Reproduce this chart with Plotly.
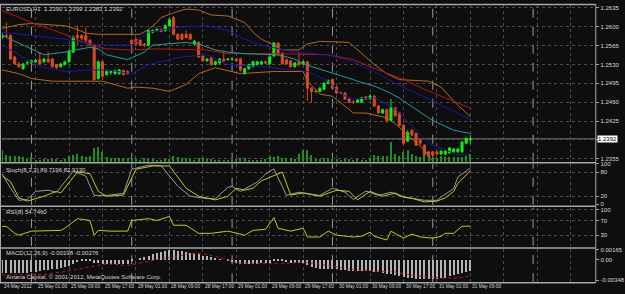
import plotly.graph_objects as go

W, H = 625, 294

# ---------------- data ----------------
bars = list(range(113))
open_ = [1.2580,1.2584,1.2584,1.2544,1.2531,1.2522,1.2533,1.2533,1.2535,1.2539,
 1.2535,1.2540,1.2540,1.2530,1.2526,1.2530,1.2535,1.2553,1.2584,1.2584,
 1.2584,1.2575,1.2566,1.2504,1.2535,1.2511,1.2515,1.2513,1.2513,1.2519,
 1.2517,1.2575,1.2577,1.2575,1.2568,1.2566,1.2590,1.2593,1.2595,1.2593,
 1.2602,1.2617,1.2586,1.2586,1.2586,1.2586,1.2568,1.2571,1.2546,1.2537,
 1.2542,1.2530,1.2533,1.2540,1.2539,1.2540,1.2540,1.2540,1.2513,1.2522,
 1.2526,1.2530,1.2531,1.2535,1.2531,1.2546,1.2570,1.2551,1.2539,1.2537,
 1.2526,1.2535,1.2531,1.2535,1.2486,1.2480,1.2480,1.2484,1.2495,1.2502,
 1.2488,1.2477,1.2477,1.2466,1.2460,1.2460,1.2460,1.2470,1.2466,1.2471,
 1.2453,1.2440,1.2446,1.2426,1.2450,1.2440,1.2417,1.2388,1.2408,1.2402,
 1.2390,1.2380,1.2368,1.2368,1.2368,1.2364,1.2364,1.2366,1.2368,1.2368,
 1.2368,1.2384,1.2390]
high = [1.2588,1.2608,1.2586,1.2546,1.2535,1.2533,1.2537,1.2539,1.2540,1.2553,
 1.2542,1.2553,1.2542,1.2531,1.2533,1.2537,1.2557,1.2584,1.2602,1.2586,
 1.2599,1.2577,1.2568,1.2537,1.2537,1.2519,1.2519,1.2520,1.2522,1.2520,
 1.2519,1.2577,1.2579,1.2577,1.2570,1.2595,1.2595,1.2599,1.2597,1.2604,
 1.2617,1.2620,1.2588,1.2588,1.2593,1.2588,1.2575,1.2573,1.2548,1.2542,
 1.2544,1.2537,1.2542,1.2553,1.2542,1.2544,1.2542,1.2542,1.2524,1.2531,
 1.2537,1.2537,1.2537,1.2537,1.2546,1.2571,1.2571,1.2553,1.2540,1.2539,
 1.2535,1.2553,1.2537,1.2537,1.2488,1.2484,1.2488,1.2497,1.2502,1.2504,
 1.2490,1.2480,1.2479,1.2468,1.2464,1.2466,1.2470,1.2471,1.2475,1.2473,
 1.2455,1.2448,1.2448,1.2466,1.2451,1.2442,1.2419,1.2408,1.2410,1.2404,
 1.2391,1.2382,1.2369,1.2369,1.2369,1.2371,1.2371,1.2377,1.2375,1.2375,
 1.2388,1.2395,1.2399]
low = [1.2577,1.2579,1.2539,1.2530,1.2524,1.2520,1.2530,1.2531,1.2533,1.2530,
 1.2533,1.2533,1.2524,1.2522,1.2524,1.2528,1.2533,1.2551,1.2566,1.2575,
 1.2568,1.2564,1.2499,1.2502,1.2504,1.2510,1.2511,1.2511,1.2511,1.2510,
 1.2511,1.2566,1.2566,1.2564,1.2562,1.2564,1.2588,1.2591,1.2590,1.2591,
 1.2600,1.2584,1.2575,1.2575,1.2579,1.2575,1.2566,1.2542,1.2535,1.2535,
 1.2528,1.2528,1.2531,1.2535,1.2537,1.2537,1.2535,1.2517,1.2511,1.2520,
 1.2524,1.2528,1.2530,1.2531,1.2530,1.2544,1.2546,1.2530,1.2530,1.2524,
 1.2524,1.2526,1.2530,1.2462,1.2459,1.2477,1.2479,1.2482,1.2493,1.2484,
 1.2475,1.2475,1.2464,1.2459,1.2457,1.2459,1.2459,1.2464,1.2464,1.2451,
 1.2439,1.2439,1.2422,1.2424,1.2433,1.2415,1.2380,1.2386,1.2397,1.2379,
 1.2380,1.2360,1.2357,1.2360,1.2362,1.2362,1.2362,1.2364,1.2366,1.2366,
 1.2366,1.2382,1.2383]
close = [1.2584,1.2583,1.2540,1.2531,1.2526,1.2531,1.2533,1.2537,1.2537,1.2531,
 1.2540,1.2535,1.2526,1.2524,1.2531,1.2535,1.2555,1.2580,1.2580,1.2579,
 1.2575,1.2566,1.2502,1.2535,1.2508,1.2517,1.2517,1.2519,1.2520,1.2511,
 1.2513,1.2568,1.2568,1.2566,1.2566,1.2593,1.2593,1.2595,1.2591,1.2602,
 1.2613,1.2586,1.2577,1.2577,1.2580,1.2577,1.2573,1.2544,1.2537,1.2540,
 1.2530,1.2535,1.2540,1.2537,1.2540,1.2540,1.2537,1.2520,1.2522,1.2530,
 1.2535,1.2535,1.2535,1.2533,1.2544,1.2570,1.2550,1.2531,1.2531,1.2526,
 1.2533,1.2530,1.2535,1.2486,1.2480,1.2480,1.2486,1.2495,1.2500,1.2486,
 1.2477,1.2477,1.2466,1.2460,1.2460,1.2464,1.2468,1.2466,1.2471,1.2453,
 1.2440,1.2446,1.2426,1.2450,1.2435,1.2417,1.2384,1.2404,1.2399,1.2380,
 1.2384,1.2362,1.2359,1.2362,1.2364,1.2369,1.2369,1.2375,1.2373,1.2373,
 1.2386,1.2393,1.2392]
volume = [1200,700,600,600,600,500,300,500,200,200,300,300,300,300,200,300,600,700,800,600,
 500,600,1400,1500,1000,500,400,400,400,400,400,300,300,200,400,300,300,200,200,300,
 300,600,500,400,400,300,200,400,400,300,
 300,200,200,200,200,200,300,400,400,200,200,200,200,300,600,500,600,400,400,400,
 300,800,1200,1200,700,300,300,400,300,300,300,200,300,300,200,300,200,200,400,700,
 600,600,600,2000,800,600,1000,
 1200,800,600,500,800,500,400,400,600,500,500,500,500,500,600,800]

# Bollinger bands (orange), read at selected bars
bb_up_x = [0,4,7,15,18,20,23,33,35,37,38,41,44,47,50,54,58,60,62,65,67,71,73,76,83,85,89,92,95,102,105,108,112]
bb_up = [1.2597,1.2604,1.2606,1.2602,1.2595,1.2588,1.2586,1.2586,1.2595,1.2608,1.2617,1.2626,1.2633,1.2631,
         1.2622,1.2620,1.2608,1.2590,1.2577,1.2566,1.2557,1.2557,1.2568,1.2573,1.2571,1.2557,1.2530,1.2513,
         1.2502,1.2499,1.2488,1.2462,1.2433]
bb_lo_x = [0,4,7,12,24,28,30,32,36,40,44,47,51,57,65,72,73,76,79,81,84,87,92,94,97,101,103,112]
bb_lo = [1.2520,1.2513,1.2504,1.2499,1.2499,1.2490,1.2486,1.2488,1.2486,1.2480,1.2493,1.2513,1.2524,1.2513,
         1.2517,1.2517,1.2499,1.2475,1.2471,1.2459,1.2440,1.2440,1.2431,1.2420,1.2399,1.2371,1.2350,1.2308]
# slow moving average (red)
ma_red_x = [0,7,15,21,25,31,36,49,54,66,78,84,88,96,101,112]
ma_red = [1.2630,1.2608,1.2586,1.2566,1.2559,1.2557,1.2559,1.2557,1.2550,1.2550,1.2548,1.2539,1.2526,1.2502,1.2484,1.2449]
# middle moving average (teal)
ma_teal_x = [0,10,15,21,23,25,30,34,36,40,44,47,51,54,58,66,70,72,78,84,85,89,92,95,97,103,108,112]
ma_teal = [1.2584,1.2548,1.2553,1.2562,1.2559,1.2548,1.2539,1.2553,1.2566,1.2568,1.2571,1.2568,1.2557,1.2553,
           1.2550,1.2548,1.2540,1.2531,1.2517,1.2502,1.2499,1.2490,1.2480,1.2468,1.2457,1.2426,1.2408,1.2402]
# blue band lines
blue_up_x = [0,7,15,21,25,31,35,42,49,54,58,62,70,78,84,90,94,102,112]
blue_up = [1.2590,1.2584,1.2577,1.2568,1.2566,1.2566,1.2590,1.2599,1.2602,1.2593,1.2577,1.2566,1.2553,1.2548,
           1.2535,1.2513,1.2495,1.2466,1.2428]
blue_lo_x = [0,4,9,15,21,25,31,35,43,49,54,62,73,78,81,84,89,94,102,109,112]
blue_lo = [1.2566,1.2548,1.2526,1.2517,1.2520,1.2520,1.2513,1.2530,1.2544,1.2548,1.2530,1.2526,1.2517,1.2499,
           1.2475,1.2466,1.2468,1.2448,1.2384,1.2362,1.2362]

# Stochastic (8,3,3)
st_main_x = [0,2,4,6,8,11,13,17,20,22,25,29,31,35,38,42,45,49,51,54,55,57,61,63,65,68,71,76,79,82,84,87,90,93,96,101,104,105,108,109,112]
st_main = [75,40,10,12,32,35,30,82,70,22,22,27,87,97,96,45,20,14,14,42,44,32,55,75,88,22,30,22,40,30,12,33,22,30,18,10,10,18,39,68,89.7196]
st_sig_x = [0,2,4,6,10,13,14,18,21,23,25,29,32,36,40,44,47,49,51,54,56,58,60,62,65,67,69,72,76,80,83,85,88,91,94,96,98,101,104,106,108,109,112]
st_sig = [71,56,16,8,20,32,28,80,76,32,20,23,87,95,95,40,20,16,11,20,40,35,40,58,71,80,23,28,20,35,32,11,32,20,28,18,15,6,8,16,32,52,82.9130]

# RSI (8)
rsi_x = [0,1,3,4,7,11,14,15,18,21,22,23,26,30,31,35,37,40,41,44,47,50,54,58,60,63,65,66,69,72,73,76,78,80,84,86,88,89,92,93,96,98,100,103,105,106,108,110,112]
rsi = [54,54,35,30,41,41,43,49,75,70,30,43,41,41,70,75,70,81,57,57,35,35,41,30,43,46,78,49,41,49,25,25,41,30,25,27,38,27,17,41,22,33,25,22,27,35,35,54,54.746]

# MACD (12,26,9): histogram per bar and signal line (units of 0.0001)
macd_pts = [-22,-23,-23,-23,-23,-22,-22,-21,-20,-19,-18,-17,-16,-15,-14,-13,-11,-7,-4,-2,
        -1,-1,-5,-6,-7,-7,-7,-7,-7,-7,-7,-3,0,2,4,7,9,11,13,15,
        17,16,15,14,13,12,11,9,7,6,5,3,1,0,-2,-4,-6,-7,-8,-8,
        -8,-7,-6,-6,-5,-3,-2,-3,-4,-5,-5,-5,-5,-9,-12,-14,-15,-15,-15,-15,
        -16,-17,-18,-19,-19,-19,-19,-19,-19,-20,-21,-22,-24,-24,-25,-27,-29,-30,-31,-32,
        -33,-33,-33,-33,-32,-31,-30,-28,-26,-24,-22,-21,-19.8]
macd_sig_x = [0,10,16,25,30,37,44,47,51,57,67,72,78,83,94,98,105,109,112]
macd_sig_pts = [-26,-25,-19,-7,-10,0,8,11,5,-6,-7,-4,-10,-16,-21,-26,-31,-31,-27.6]
macd = [v / 10000 for v in macd_pts]
macd_sig = [v / 10000 for v in macd_sig_pts]

time_labels = ["24 May 2012", "25 May 01:00", "25 May 09:00", "25 May 17:00", "28 May 01:00",
               "28 May 09:00", "28 May 17:00", "29 May 01:00", "29 May 09:00", "29 May 17:00",
               "30 May 01:00", "30 May 09:00", "30 May 17:00", "31 May 01:00", "31 May 09:00"]
time_label_bars = [0, 8, 16, 24, 32, 40, 48, 56, 64, 72, 80, 88, 96, 104, 112]
day_sep_bars = [7, 31, 55, 79, 103, 127]
price_ticks = [1.2355, 1.2390, 1.2425, 1.2460, 1.2495, 1.2530, 1.2565, 1.2600, 1.2635]

# ---------------- layout helpers ----------------
def py(p):
    return 1 - p / H

BG = "#0e0e0e"
TXT = "#d8d8d8"
GRID = "#4c4c4c"
FONT = "Liberation Sans"
FS = 6

dom_x = [2 / W, 605 / W]
xr = [-0.05, 603 / 4.25]
panels = {
    "y": [py(162), py(2)],
    "y2": [py(206), py(164)],
    "y3": [py(248), py(209)],
    "y4": [py(285), py(251)],
}

fig = go.Figure()

# volume (overlay axis on price panel)
fig.add_trace(go.Bar(x=bars, y=volume, width=0.3, marker=dict(color="#1f8f1f", line=dict(width=0)),
                     xaxis="x", yaxis="y5", hoverinfo="skip"))

line = lambda c, w=1, d="solid": dict(color=c, width=w, dash=d)
fig.add_trace(go.Scatter(x=bb_up_x, y=bb_up, mode="lines", line=line("#b8661e"), xaxis="x", yaxis="y"))
fig.add_trace(go.Scatter(x=bb_lo_x, y=bb_lo, mode="lines", line=line("#b8661e"), xaxis="x", yaxis="y"))
fig.add_trace(go.Scatter(x=ma_red_x, y=ma_red, mode="lines", line=line("#b81414"), xaxis="x", yaxis="y"))
fig.add_trace(go.Scatter(x=blue_up_x, y=blue_up, mode="lines", line=line("#1818b0"), xaxis="x", yaxis="y"))
fig.add_trace(go.Scatter(x=blue_lo_x, y=blue_lo, mode="lines", line=line("#1818b0"), xaxis="x", yaxis="y"))
fig.add_trace(go.Scatter(x=ma_teal_x, y=ma_teal, mode="lines", line=line("#1f9e9e"), xaxis="x", yaxis="y"))

fig.add_trace(go.Candlestick(
    x=bars, open=open_, high=high, low=low, close=close, xaxis="x", yaxis="y",
    increasing=dict(line=dict(color="#10f010", width=1), fillcolor="#10f010"),
    decreasing=dict(line=dict(color="#dc4a1e", width=1), fillcolor="#dc4a1e"),
    whiskerwidth=0, hoverinfo="skip"))

# stochastic
fig.add_trace(go.Scatter(x=st_main_x, y=st_main, mode="lines", line=line("#9a9a9a"), xaxis="x2", yaxis="y2"))
fig.add_trace(go.Scatter(x=st_sig_x, y=st_sig, mode="lines", line=line("#c8c81e"), xaxis="x2", yaxis="y2"))
# rsi
fig.add_trace(go.Scatter(x=rsi_x, y=rsi, mode="lines", line=line("#c8c81e"), xaxis="x3", yaxis="y3"))
# macd
fig.add_trace(go.Bar(x=bars, y=macd, width=0.25, marker=dict(color="#b4b4b4", line=dict(width=0)),
                     xaxis="x4", yaxis="y4", hoverinfo="skip"))
fig.add_trace(go.Scatter(x=macd_sig_x, y=macd_sig, mode="lines", line=line("#d01010", 1, "dot"),
                         xaxis="x4", yaxis="y4"))

xcommon = dict(domain=dom_x, range=xr, showticklabels=False, showgrid=True, gridcolor=GRID,
               griddash="dot", gridwidth=1, tickvals=list(range(0, 142, 8)), zeroline=False,
               ticks="", showline=False, fixedrange=True)
ycommon = dict(side="right", showgrid=True, gridcolor=GRID, griddash="dot", zeroline=False,
               ticks="outside", ticklen=3, tickcolor="#a0a0a0", tickfont=dict(family=FONT, size=FS, color=TXT),
               showline=False, fixedrange=True)

fig.update_layout(
    width=W, height=H, margin=dict(l=0, r=0, t=0, b=0),
    paper_bgcolor=BG, plot_bgcolor=BG, showlegend=False, bargap=0,
    xaxis=dict(xcommon, anchor="y", rangeslider=dict(visible=False)),
    xaxis2=dict(xcommon, anchor="y2", matches="x"),
    xaxis3=dict(xcommon, anchor="y3", matches="x"),
    xaxis4=dict(xcommon, anchor="y4", matches="x"),
    yaxis=dict(ycommon, domain=panels["y"], anchor="x", range=[1.23496, 1.26405],
               tickvals=price_ticks, ticktext=["" if abs(v - close[-1]) < 0.0004 else f"{v:.4f}" for v in price_ticks]),
    yaxis5=dict(overlaying="y", range=[0, 16000], visible=False, fixedrange=True),
    yaxis2=dict(ycommon, domain=panels["y2"], anchor="x2", range=[-1.2, 100.8],
                tickvals=[0, 20, 80, 100], ticktext=["0", "20", "80", "100"]),
    yaxis3=dict(ycommon, domain=panels["y3"], anchor="x3", range=[0.7, 104.7],
                tickvals=[0, 30, 70, 100], ticktext=["0", "30", "70", "100"]),
    yaxis4=dict(ycommon, domain=panels["y4"], anchor="x4", range=[-0.0038, 0.0018], showgrid=False,
                tickvals=[-0.00348, 0, 0.00165], ticktext=["-0.00348", "0.00", "0.00165"]),
)

shapes = []
# day separators
for yk in ["y", "y2", "y3", "y4"]:
    xk = {"y": "x", "y2": "x2", "y3": "x3", "y4": "x4"}[yk]
    for b in day_sep_bars:
        shapes.append(dict(type="line", xref=xk, yref=f"{yk} domain", x0=b, x1=b, y0=0, y1=1,
                           line=dict(color="#9a9a9a", width=1, dash="dash"), layer="below"))
# bid line
shapes.append(dict(type="line", xref="x domain", yref="y", x0=0, x1=1, y0=close[-1], y1=close[-1],
                   line=dict(color="#7a7a7a", width=1), layer="below"))
# panel borders
for ypx in [1.5, 163, 207.5, 250, 285.5]:
    shapes.append(dict(type="line", xref="paper", yref="paper", x0=0, x1=605 / W, y0=py(ypx), y1=py(ypx),
                       line=dict(color="#a8a8a8", width=1.5)))
shapes.append(dict(type="line", xref="paper", yref="paper", x0=605.5 / W, x1=605.5 / W, y0=py(286), y1=py(1),
                   line=dict(color="#a8a8a8", width=1)))
shapes.append(dict(type="line", xref="paper", yref="paper", x0=0.5 / W, x1=0.5 / W, y0=py(286), y1=py(1),
                   line=dict(color="#a8a8a8", width=1)))
fig.update_layout(shapes=shapes)

tf = dict(family=FONT, size=FS, color=TXT)
tf_small = dict(family=FONT, size=4.8, color=TXT)
ann = []
ann.append(dict(xref="paper", yref="paper", x=4 / W, y=py(6.5), xanchor="left", yanchor="middle", showarrow=False,
                text=f"EURUSD,H1  {open_[-1]:.4f} {high[-1]:.4f} {low[-1]:.4f} {close[-1]:.4f}", font=tf))
ann.append(dict(xref="paper", yref="paper", x=4 / W, y=py(170), xanchor="left", yanchor="middle", showarrow=False,
                text=f"Stoch(8,3,3) {st_main[-1]:.4f} {st_sig[-1]:.4f}", font=tf))
ann.append(dict(xref="paper", yref="paper", x=4 / W, y=py(213.5), xanchor="left", yanchor="middle", showarrow=False,
                text=f"RSI(8) {rsi[-1]:.4f}", font=tf))
ann.append(dict(xref="paper", yref="paper", x=4 / W, y=py(255.5), xanchor="left", yanchor="middle", showarrow=False,
                text=f"MACD(12,26,9) {macd[-1]:.5f} {macd_sig[-1]:.5f}", font=tf))
ann.append(dict(xref="paper", yref="paper", x=4 / W, y=py(280), xanchor="left", yanchor="middle", showarrow=False,
                text="Amana Capital, © 2001-2012, MetaQuotes Software Corp.", font=tf))
for b, t in zip(time_label_bars, time_labels):
    ann.append(dict(xref="x4", yref="paper", x=b, y=py(289.5), xanchor="left", yanchor="middle", showarrow=False,
                    text=t, font=tf_small))
ann.append(dict(xref="paper", yref="y", x=607 / W, y=close[-1], xanchor="left", yanchor="middle", showarrow=False,
                text=f"{close[-1]:.4f}", font=dict(family=FONT, size=FS, color="#000000"), bgcolor="#ffffff",
                borderpad=0))
fig.update_layout(annotations=ann)

fig.write_html("out.html")
